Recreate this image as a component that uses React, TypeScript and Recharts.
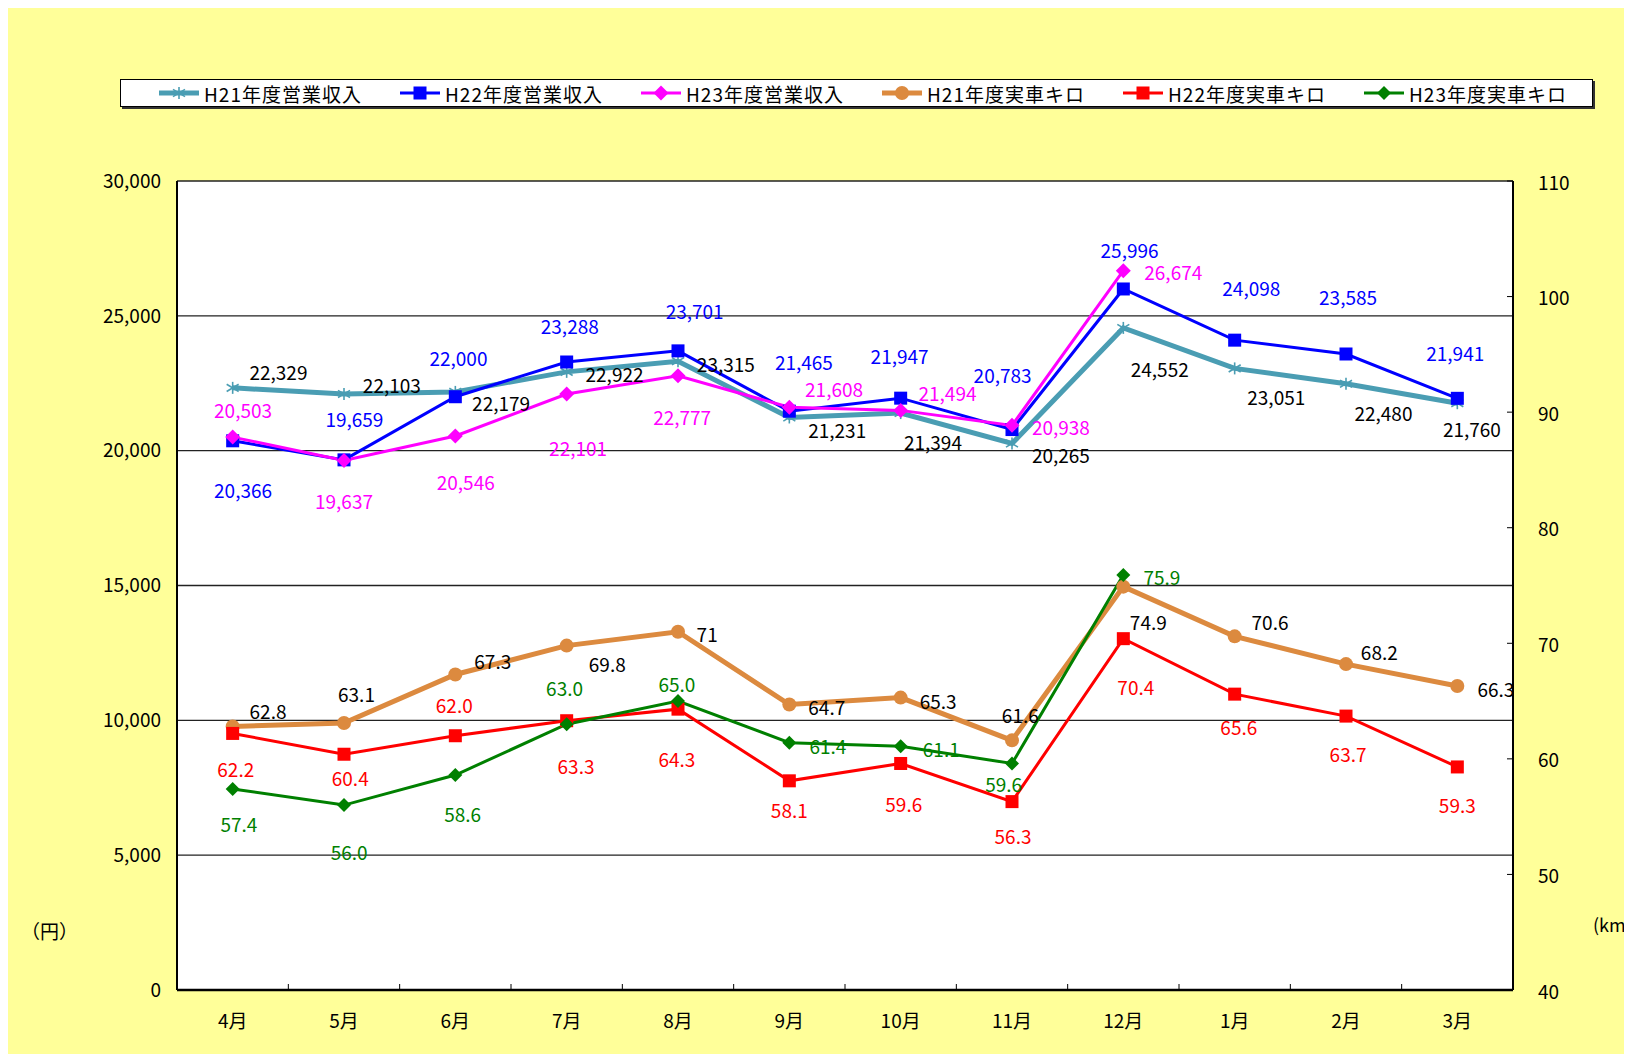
import React from 'react';
import { ComposedChart, Line, XAxis, YAxis, CartesianGrid } from 'recharts';

const months = ['4月', '5月', '6月', '7月', '8月', '9月', '10月', '11月', '12月', '1月', '2月', '3月'];

const revH21 = [22329, 22103, 22179, 22922, 23315, 21231, 21394, 20265, 24552, 23051, 22480, 21760];
const revH22 = [20366, 19659, 22000, 23288, 23701, 21465, 21947, 20783, 25996, 24098, 23585, 21941];
const revH23 = [20503, 19637, 20546, 22101, 22777, 21608, 21494, 20938, 26674];

const kmH21 = [62.8, 63.1, 67.3, 69.8, 71, 64.7, 65.3, 61.6, 74.9, 70.6, 68.2, 66.3];
const kmH22 = [62.2, 60.4, 62.0, 63.3, 64.3, 58.1, 59.6, 56.3, 70.4, 65.6, 63.7, 59.3];
const kmH23 = [57.4, 56.0, 58.6, 63.0, 65.0, 61.4, 61.1, 59.6, 75.9];

const revTicks = [0, 5000, 10000, 15000, 20000, 25000, 30000];
const kmTicks = [40, 50, 60, 70, 80, 90, 100, 110];

const data = months.map((month, i) => ({
  month,
  revH21: revH21[i] ?? null,
  revH22: revH22[i] ?? null,
  revH23: revH23[i] ?? null,
  kmH21: kmH21[i] ?? null,
  kmH22: kmH22[i] ?? null,
  kmH23: kmH23[i] ?? null,
}));

// layout
const W = 1624;
const H = 1046;
const PLOT_W = 1336;
const BAND = PLOT_W / 12;
const S = 1632 / 1568;
const FONT = "'Noto Sans CJK JP', 'Noto Sans', sans-serif";

const C = {
  teal: '#4a9db3',
  blue: '#0000ff',
  magenta: '#ff00ff',
  orange: '#dc8a3f',
  red: '#ff0000',
  green: '#008000',
};

// label offsets from each point (measured in the reference)
const offRevH21 = [[44, -16], [46, -9], [44, 10], [46, 2], [46, 2], [46, 12], [31, 27], [47, 11], [35, 39], [40, 27], [36, 28], [14, 24]];
const offRevH22 = [[10, 47], [10, -40], [3, -38], [3, -35], [16, -39], [14, -48], [-1, -41], [-9, -53], [6, -38], [16, -51], [2, -55], [-2, -44]];
const offRevH23 = [[10, -27], [0, 38], [10, 44], [11, 51], [4, 39], [43, -18], [45, -17], [47, 1], [48, 1]];
const offKmH21 = [[34, -15], [12, -28], [36, -13], [39, 17], [28, 2], [36, 2], [36, 3], [8, -25], [24, 33], [34, -14], [32, -12], [37, 2]];
const offKmH22 = [[3, 34], [6, 22], [-1, -30], [9, 43], [-1, 47], [0, 28], [3, 38], [1, 33], [12, 46], [4, 31], [2, 36], [0, 36]];
const offKmH23 = [[6, 33], [5, 45], [7, 37], [-2, -35], [-1, -17], [37, 3], [39, 2], [-8, 19], [37, 1]];

const comma = (v: number) => v.toLocaleString('en-US');
const oneDec = (v: number) => v.toFixed(1);
const plain = (v: number) => String(v);

const makeLabel = (offsets: number[][], color: string, fmt: (v: number) => string) => (props: any) => {
  const { x, y, value, index } = props;
  if (value == null || x == null || y == null) return null;
  const o = offsets[index] || [0, 0];
  return (
    <text
      key={`lbl-${index}`}
      x={x + o[0] * S}
      y={y + o[1] * S}
      textAnchor="middle"
      dominantBaseline="central"
      fill={color}
      fontSize={19}
      fontFamily={FONT}
    >
      {fmt(value)}
    </text>
  );
};

type Shape = 'star' | 'square' | 'diamond' | 'circle';

function Marker({ shape, cx, cy, color, size }: { shape: Shape; cx: number; cy: number; color: string; size: number }) {
  const h = size / 2;
  if (shape === 'star') {
    return (
      <g stroke={color} strokeWidth={1.6}>
        <line x1={cx} y1={cy - h} x2={cx} y2={cy + h} />
        <line x1={cx - h} y1={cy - h * 0.6} x2={cx + h} y2={cy + h * 0.6} />
        <line x1={cx - h} y1={cy + h * 0.6} x2={cx + h} y2={cy - h * 0.6} />
      </g>
    );
  }
  if (shape === 'square') {
    return <rect x={cx - h} y={cy - h} width={size} height={size} fill={color} />;
  }
  if (shape === 'diamond') {
    return <polygon points={`${cx},${cy - h} ${cx + h},${cy} ${cx},${cy + h} ${cx - h},${cy}`} fill={color} />;
  }
  return <circle cx={cx} cy={cy} r={h} fill={color} />;
}

const makeDot = (shape: Shape, color: string, size: number) => (props: any) => {
  const { cx, cy, index, value } = props;
  if (value == null || cx == null || cy == null) return <g key={`dot-${index}`} />;
  return (
    <g key={`dot-${index}`}>
      <Marker shape={shape} cx={cx} cy={cy} color={color} size={size} />
    </g>
  );
};

const series = [
  { key: 'revH21', name: 'H21年度営業収入', axis: 'rev', color: C.teal, width: 5, shape: 'star' as Shape, size: 12, off: offRevH21, lc: '#000', fmt: comma },
  { key: 'revH22', name: 'H22年度営業収入', axis: 'rev', color: C.blue, width: 3, shape: 'square' as Shape, size: 13, off: offRevH22, lc: C.blue, fmt: comma },
  { key: 'revH23', name: 'H23年度営業収入', axis: 'rev', color: C.magenta, width: 3, shape: 'diamond' as Shape, size: 15, off: offRevH23, lc: C.magenta, fmt: comma },
  { key: 'kmH21', name: 'H21年度実車キロ', axis: 'km', color: C.orange, width: 5, shape: 'circle' as Shape, size: 14, off: offKmH21, lc: '#000', fmt: plain },
  { key: 'kmH22', name: 'H22年度実車キロ', axis: 'km', color: C.red, width: 3, shape: 'square' as Shape, size: 13, off: offKmH22, lc: C.red, fmt: oneDec },
  { key: 'kmH23', name: 'H23年度実車キロ', axis: 'km', color: C.green, width: 3, shape: 'diamond' as Shape, size: 14, off: offKmH23, lc: C.green, fmt: oneDec },
];

const MonthTick = (props: any) => {
  const { x, y, payload, index } = props;
  return (
    <g>
      {index > 0 && <line x1={x - BAND / 2} x2={x - BAND / 2} y1={y} y2={y - 6} stroke="#000" strokeWidth={1} />}
      <text x={x} y={y + 29} textAnchor="middle" dominantBaseline="central" fontSize={19} fontFamily={FONT} fill="#000">
        {payload.value}
      </text>
    </g>
  );
};

const KmTick = (props: any) => {
  const { x, y, payload } = props;
  return (
    <g>
      <line x1={x - 6} x2={x} y1={y} y2={y} stroke="#000" strokeWidth={1} />
      <text x={x + 25} y={y} textAnchor="start" dominantBaseline="central" fontSize={19} fontFamily={FONT} fill="#000">
        {payload.value}
      </text>
    </g>
  );
};

function LegendBox() {
  return (
    <div
      style={{
        position: 'absolute',
        left: 112,
        top: 71,
        width: 1473,
        height: 28,
        background: '#fff',
        border: '1px solid #000',
        boxShadow: '2px 2px 0 #333',
        display: 'flex',
        alignItems: 'center',
        paddingLeft: 38,
        boxSizing: 'border-box',
      }}
    >
      {series.map((s) => (
        <div key={s.key} style={{ width: 241, display: 'flex', alignItems: 'center', flex: 'none' }}>
          <svg width={40} height={20} style={{ flex: 'none' }}>
            <line x1={0} x2={40} y1={10} y2={10} stroke={s.color} strokeWidth={s.width} />
            <Marker shape={s.shape} cx={20} cy={10} color={s.color} size={s.size} />
          </svg>
          <span style={{ marginLeft: 5, fontSize: 19, fontFamily: FONT, color: '#000', letterSpacing: 1 }}>{s.name}</span>
        </div>
      ))}
    </div>
  );
}

export default function App() {
  return (
    <div style={{ position: 'relative', width: W, height: H, background: '#ffff99', fontFamily: FONT }}>
      <LegendBox />
      <div style={{ position: 'absolute', left: 13, top: 909, fontSize: 19 }}>（円）</div>
      <div style={{ position: 'absolute', left: 1585, top: 903, fontSize: 18, whiteSpace: 'nowrap' }}>(km)</div>
      <ComposedChart
        width={W}
        height={H}
        data={data}
        margin={{ top: 173, right: 39, bottom: 14, left: 69 }}
        style={{ position: 'absolute', left: 0, top: 0 }}
      >
        <CartesianGrid yAxisId="rev" vertical={false} stroke="#222" strokeWidth={1.4} fill="#fff" fillOpacity={1} />
        <XAxis
          dataKey="month"
          scale="band"
          interval={0}
          height={50}
          axisLine={{ stroke: '#000', strokeWidth: 2.5 }}
          tickLine={false}
          tickSize={0}
          tickMargin={0}
          tick={MonthTick}
        />
        <YAxis
          yAxisId="rev"
          orientation="left"
          width={100}
          domain={[0, 30000]}
          ticks={revTicks}
          interval={0}
          tickFormatter={comma}
          axisLine={{ stroke: '#000', strokeWidth: 2 }}
          tickLine={false}
          tickSize={0}
          tickMargin={16}
          tick={{ fill: '#000', fontSize: 19, fontFamily: FONT }}
        />
        <YAxis
          yAxisId="km"
          orientation="right"
          width={80}
          domain={[40, 110]}
          ticks={kmTicks}
          interval={0}
          axisLine={{ stroke: '#000', strokeWidth: 2 }}
          tickLine={false}
          tickSize={0}
          tickMargin={0}
          tick={KmTick}
        />
        {series.map((s) => (
          <Line
            key={s.key}
            type="linear"
            dataKey={s.key}
            name={s.name}
            yAxisId={s.axis}
            stroke={s.color}
            strokeWidth={s.width}
            dot={makeDot(s.shape, s.color, s.size)}
            activeDot={false}
            label={makeLabel(s.off, s.lc, s.fmt)}
            isAnimationActive={false}
          />
        ))}
      </ComposedChart>
    </div>
  );
}
